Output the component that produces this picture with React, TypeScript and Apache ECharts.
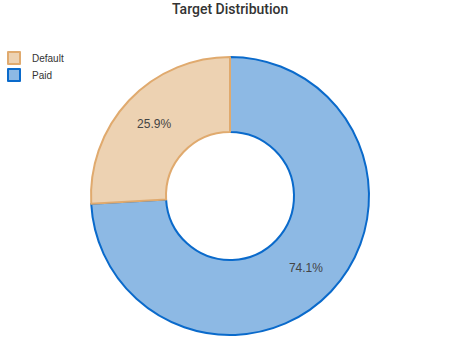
import React, { useEffect, useRef } from "react";
import * as echarts from "echarts";

const categories = ["Default", "Paid"];
const values = [25.9, 74.1];
const fillColors = ["#EDD2B2", "#8DB9E4"];
const borderColors = ["#E0AA6E", "#0A6ACB"];

export default function App() {
  const ref = useRef<HTMLDivElement>(null);
  useEffect(() => {
    document.body.style.margin = "0";
    const chart = echarts.init(ref.current!, null, { renderer: "svg" });
    const items = categories.map((name, i) => ({
      name,
      value: values[i],
      itemStyle: { color: fillColors[i], borderColor: borderColors[i], borderWidth: 2 },
    }));
    chart.setOption({
      animation: false,
      title: {
        text: "Target Distribution",
        left: 172,
        top: 2,
        padding: 0,
        textStyle: { fontSize: 14, fontWeight: 500, color: "#333", fontFamily: "Roboto, sans-serif" },
      },
      legend: {
        orient: "vertical",
        left: 7,
        top: 51,
        padding: 0,
        itemWidth: 12,
        itemHeight: 12,
        itemGap: 3,
        icon: "rect",
        data: categories,
        textStyle: { fontSize: 10, lineHeight: 12, color: "#333", padding: [0, 0, 0, 7], fontFamily: "Liberation Sans, Arial, sans-serif" },
      },
      series: [
        {
          type: "pie",
          center: [230, 196],
          radius: [64, 139],
          startAngle: 90,
          clockwise: true,
          label: {
            show: true,
            position: "inside",
            formatter: "{d}%",
            fontSize: 12,
            color: "#444",
            fontFamily: "Liberation Sans, Arial, sans-serif",
          },
          labelLine: { show: false },
          data: items.slice().reverse(),
        },
      ],
    });
    return () => chart.dispose();
  }, []);
  return <div ref={ref} style={{ width: 452, height: 343 }} />;
}
